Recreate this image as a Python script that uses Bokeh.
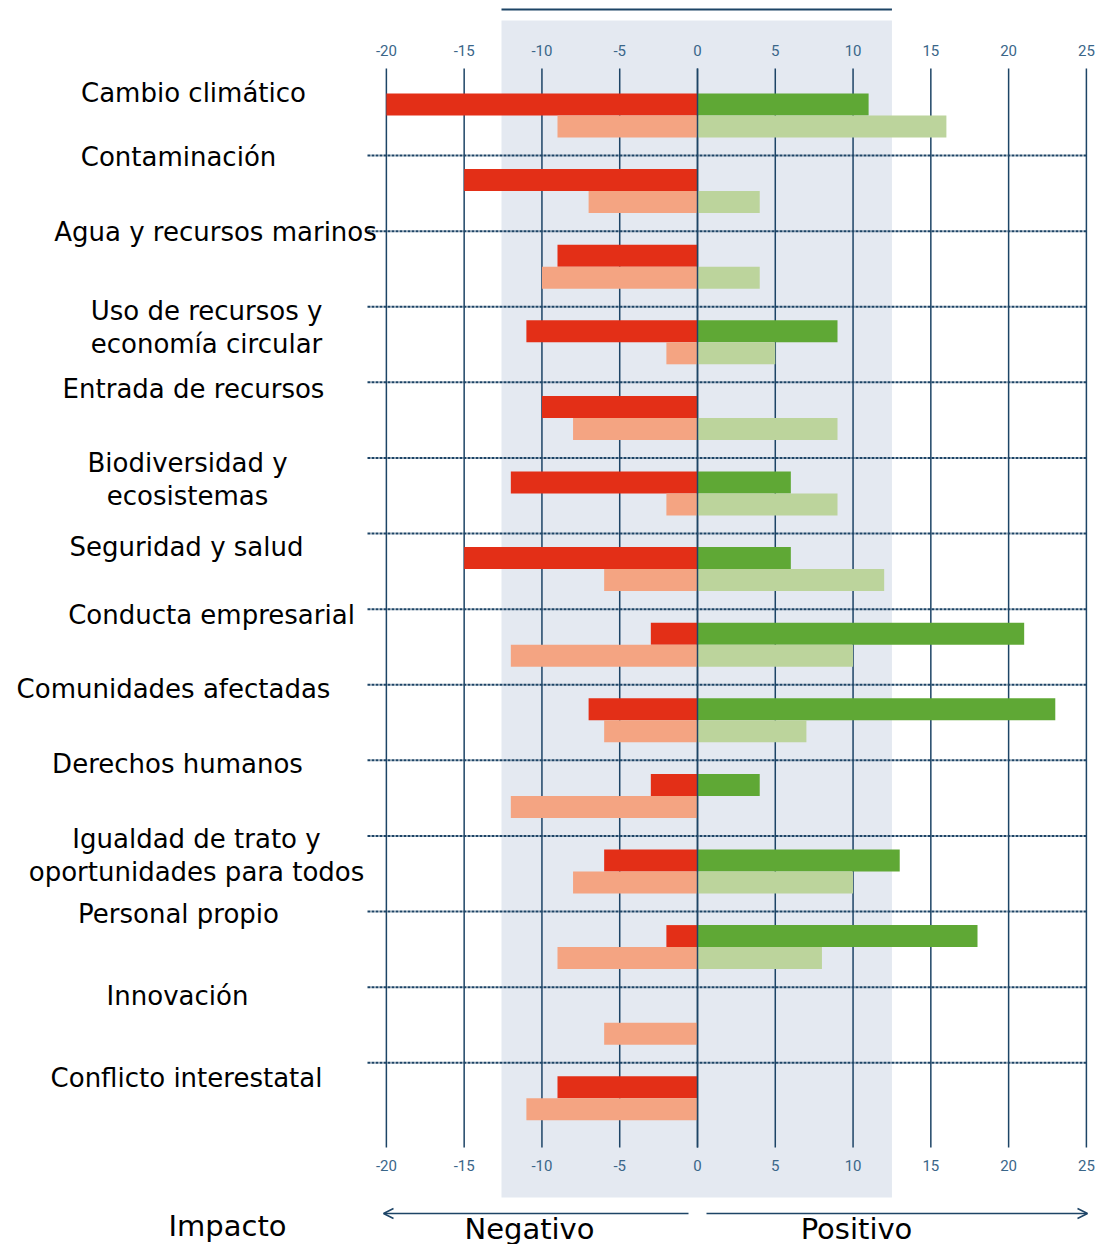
from bokeh.plotting import figure
from bokeh.models import Range1d, Arrow, OpenHead
from bokeh.core.properties import value
from bokeh.embed import file_html
from bokeh.resources import INLINE

# ---------------- data ----------------
categories = [
    "Cambio climático", "Contaminación", "Agua y recursos marinos",
    "Uso de recursos y\neconomía circular", "Entrada de recursos",
    "Biodiversidad y\necosistemas", "Seguridad y salud", "Conducta empresarial",
    "Comunidades afectadas", "Derechos humanos",
    "Igualdad de trato y\noportunidades para todos", "Personal propio",
    "Innovación", "Conflicto interestatal",
]
neg_actual = [-20, -15, -9, -11, -10, -12, -15, -3, -7, -3, -6, -2, 0, -9]
pos_actual = [11, 0, 0, 9, 0, 6, 6, 21, 23, 4, 13, 18, 0, 0]
neg_potential = [-9, -7, -10, -2, -8, -2, -6, -12, -6, -12, -8, -9, -6, -11]
pos_potential = [16, 4, 4, 5, 9, 9, 12, 10, 7, 0, 10, 8, 0, 0]
ticks = [-20, -15, -10, -5, 0, 5, 10, 15, 20, 25]
tick_labels = ["-20", "-15", "-10", "-5", "0", "5", "10", "15", "20", "25"]
band = (-12.6, 12.5)
axis_title = "Impacto"
neg_label = "Negativo"
pos_label = "Positivo"

# ---------------- layout helpers (page pixels -> data) ----------------
X0, XS = 697.0, 15.556   # x=0 pixel, px per unit
Y0, YS = 115.0, 75.6     # row 0 centre pixel, px per row
def X(px):
    return (px - X0) / XS
def Y(py):
    return (py - Y0) / YS

OFF = 0
W, H = 1100, 1244
p = figure(width=W, height=H, output_backend="svg", toolbar_location=None,
           x_range=Range1d(X(OFF), X(OFF + W)), y_range=Range1d(Y(OFF + H), Y(OFF)),
           min_border=0, min_border_left=0, min_border_right=0,
           min_border_top=0, min_border_bottom=0)
p.axis.visible = False
p.grid.visible = False
p.outline_line_color = None
p.background_fill_color = "white"
p.border_fill_color = "white"

NAVY = "#1d4466"
TICKC = "#3a6689"

# shaded band and top line
p.quad(left=[band[0]], right=[band[1]], top=[Y(20)], bottom=[Y(1197)],
       fill_color="#e4e9f1", line_color=None)
p.segment(x0=[band[0]], x1=[band[1]], y0=[Y(9)], y1=[Y(9)], line_color=NAVY, line_width=2)

# vertical grid lines
p.segment(x0=ticks, x1=ticks, y0=[Y(68)] * len(ticks), y1=[Y(1147)] * len(ticks),
          line_color=NAVY, line_width=1.5)

# dotted separators
n = len(categories)
sep_y = [i + 0.53 for i in range(n - 1)]
p.segment(x0=[X(367)] * len(sep_y), x1=[25] * len(sep_y), y0=sep_y, y1=sep_y,
          line_color=NAVY, line_width=2, line_dash="3 1")

# bars
bh = 22 / YS
rows = list(range(n))
top_y = [i - bh / 2 for i in rows]
bot_y = [i + bh / 2 for i in rows]
p.hbar(y=top_y, height=bh, left=neg_actual, right=[0] * n, fill_color="#e32f17", line_color=None)
p.hbar(y=top_y, height=bh, left=[0] * n, right=pos_actual, fill_color="#5fa835", line_color=None)
p.hbar(y=bot_y, height=bh, left=neg_potential, right=[0] * n, fill_color="#f4a482", line_color=None)
p.hbar(y=bot_y, height=bh, left=[0] * n, right=pos_potential, fill_color="#bcd49c", line_color=None)

# zero line drawn over bars
p.segment(x0=[0], x1=[0], y0=[Y(68)], y1=[Y(1147)], line_color=NAVY, line_width=1.5)

# tick labels top and bottom
for py in (50, 1165):
    p.text(x=ticks, y=[Y(py)] * len(ticks), text=tick_labels,
           text_font=value("Roboto"), text_font_size="15px",
           text_color=TICKC, text_align="center", text_baseline="middle")

# category labels: (centre px x, centre px y of first line)
label_pos = [(193, 92), (178, 156), (215, 231), (206, 310), (193, 388),
             (187, 462), (186, 546), (211, 614), (173, 688), (177, 763),
             (196, 838), (178, 913), (177, 995), (186, 1077)]
lx, ly, lt = [], [], []
for cat, (cx, cy) in zip(categories, label_pos):
    for k, line in enumerate(cat.split("\n")):
        lx.append(X(cx))
        ly.append(Y(cy + 33 * k))
        lt.append(line)
p.text(x=lx, y=ly, text=lt, text_font=value("DejaVu Sans"), text_font_size="26px",
       text_color="black", text_align="center", text_baseline="middle")

# bottom arrows and labels
p.add_layout(Arrow(end=OpenHead(size=10, line_color=NAVY, line_width=1.5),
                   x_start=X(688), y_start=Y(1213), x_end=X(383), y_end=Y(1213),
                   line_color=NAVY, line_width=1.5))
p.add_layout(Arrow(end=OpenHead(size=10, line_color=NAVY, line_width=1.5),
                   x_start=X(706), y_start=Y(1213), x_end=X(1087), y_end=Y(1213),
                   line_color=NAVY, line_width=1.5))
p.text(x=[X(529), X(856)], y=[Y(1228)] * 2, text=[neg_label, pos_label],
       text_font=value("DejaVu Sans"), text_font_size="29px", text_color="black",
       text_align="center", text_baseline="middle")
p.text(x=[X(227)], y=[Y(1225)], text=[axis_title],
       text_font=value("DejaVu Sans"), text_font_size="29px", text_color="black",
       text_align="center", text_baseline="middle")

open("out.html", "w").write(file_html(p, INLINE))
